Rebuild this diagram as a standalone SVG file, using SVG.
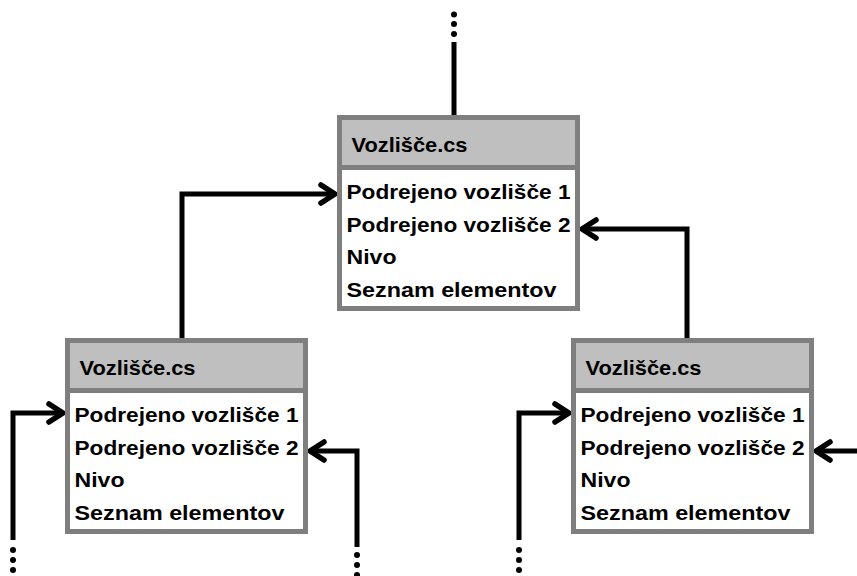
<svg xmlns="http://www.w3.org/2000/svg" width="857" height="576" viewBox="0 0 857 576">
  <style>
    .frame { fill: none; stroke: #7f7f7f; stroke-width: 5; }
    .body { fill: #ffffff; }
    .head { fill: #bfbfbf; }
    .sep { stroke: #7f7f7f; stroke-width: 5; }
    .t { font-family: "Liberation Sans", Arial, sans-serif; font-weight: bold; font-size: 21px; fill: #000; }
    .wire { fill: none; stroke: #000; stroke-width: 5; stroke-linejoin: miter; }
    .dot { fill: #000; }
  </style>
  <defs>
    <marker id="arrow" markerUnits="userSpaceOnUse" markerWidth="30" markerHeight="30" viewBox="-20 -15 30 30" refX="0" refY="0" orient="auto" overflow="visible">
      <path d="M-14,-9 L0,0 L-14,9" fill="none" stroke="#000" stroke-width="5.5" stroke-linecap="round" stroke-linejoin="round"/>
    </marker>
    <!-- class box: title bar plus four member rows -->
    <g id="classBox">
      <rect class="body" x="0" y="0" width="238" height="191"/>
      <rect class="head" x="0" y="0" width="238" height="50"/>
      <line class="sep" x1="0" y1="50" x2="238" y2="50"/>
      <rect class="frame" x="0" y="0" width="238" height="191"/>
      <text class="t" x="12" y="34.5" textLength="116" lengthAdjust="spacingAndGlyphs">Vozlišče.cs</text>
      <text class="t" x="7" y="81.5" textLength="224" lengthAdjust="spacingAndGlyphs">Podrejeno vozlišče 1</text>
      <text class="t" x="7" y="114" textLength="224" lengthAdjust="spacingAndGlyphs">Podrejeno vozlišče 2</text>
      <text class="t" x="7" y="146.5" textLength="50" lengthAdjust="spacingAndGlyphs">Nivo</text>
      <text class="t" x="7" y="179" textLength="210" lengthAdjust="spacingAndGlyphs">Seznam elementov</text>
    </g>
  </defs>

  <g id="connectors">
    <!-- link to the parent above -->
    <line class="wire" x1="454" y1="42" x2="454" y2="117"/>
    <circle class="dot" cx="454" cy="14.5" r="3"/>
    <circle class="dot" cx="454" cy="24" r="3"/>
    <circle class="dot" cx="454" cy="34" r="3"/>

    <!-- children of the root node -->
    <path class="wire" d="M182,340 V194 H335" marker-end="url(#arrow)"/>
    <path class="wire" d="M687,340 V229 H582" marker-end="url(#arrow)"/>

    <!-- left child: incoming links -->
    <path class="wire" d="M13,540 V413 H63" marker-end="url(#arrow)"/>
    <circle class="dot" cx="13" cy="550" r="3"/>
    <circle class="dot" cx="13" cy="560" r="3"/>
    <circle class="dot" cx="13" cy="570" r="3"/>
    <path class="wire" d="M357,547 V451 H310" marker-end="url(#arrow)"/>
    <circle class="dot" cx="357" cy="555" r="3"/>
    <circle class="dot" cx="357" cy="565" r="3"/>
    <circle class="dot" cx="357" cy="575" r="3"/>

    <!-- right child: incoming links -->
    <path class="wire" d="M519,540 V413 H569" marker-end="url(#arrow)"/>
    <circle class="dot" cx="519" cy="550" r="3"/>
    <circle class="dot" cx="519" cy="560" r="3"/>
    <circle class="dot" cx="519" cy="570" r="3"/>
    <path class="wire" d="M860,451 H816" marker-end="url(#arrow)"/>
  </g>

  <g id="node-root" transform="translate(339.5,117.5)">
    <use href="#classBox"/>
  </g>
  <g id="node-left" transform="translate(67.5,340.5)">
    <use href="#classBox"/>
  </g>
  <g id="node-right" transform="translate(573.5,340.5)">
    <use href="#classBox"/>
  </g>
</svg>
